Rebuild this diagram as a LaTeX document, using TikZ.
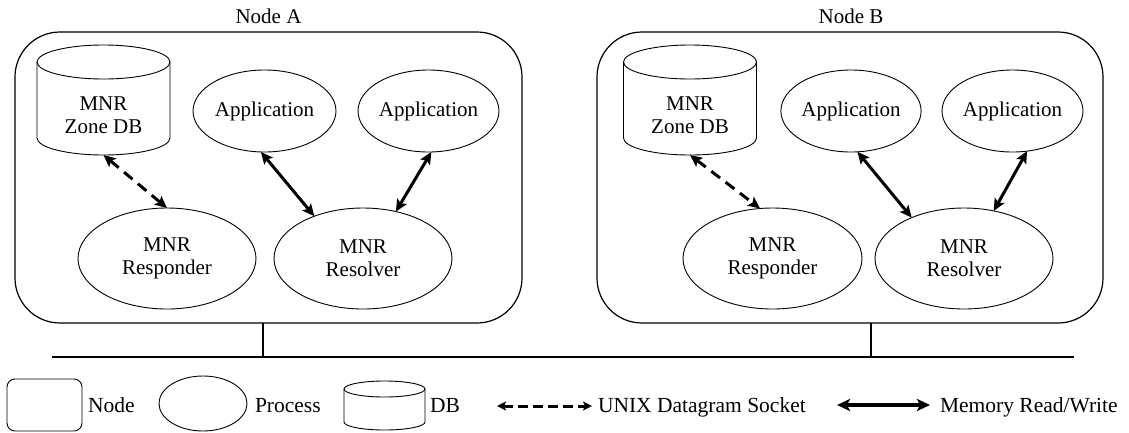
\documentclass[tikz,border=0pt]{standalone}
\usepackage{fontspec}
\setmainfont{Liberation Serif}
\usetikzlibrary{shapes.geometric,arrows.meta}

% Draws a database cylinder around the named (empty) node #1,
% with horizontal radius #2 and ellipse height radius #3.
\newcommand{\drawdb}[3]{%
  \draw[shapeline] ([yshift=-#3]#1.north west) -- ([yshift=#3]#1.south west)
    arc[start angle=180, end angle=360, x radius=#2, y radius=#3]
    -- ([yshift=-#3]#1.north east);
  \draw[shapeline] ([yshift=-#3]#1.north) ellipse[x radius=#2, y radius=#3];
}

\begin{document}
\begin{tikzpicture}[x=1pt, y=-1pt,
  every node/.style={font=\fontsize{21}{23}\selectfont, inner sep=0pt, outer sep=0pt},
  shapeline/.style={line width=0.9pt},
  host/.style={draw, line width=1.2pt, rounded corners=45pt,
               minimum width=507pt, minimum height=291pt},
  proc/.style={draw, ellipse, shapeline, align=center},
  caption/.style={align=center},
  legtext/.style={anchor=base west, font=\fontsize{21.5}{24}\selectfont},
  sock/.style={<->, >={Stealth[length=12pt, width=11pt, inset=2.5pt]},
               line width=3pt, dash pattern=on 11pt off 7pt},
  mem/.style={<->, >={Stealth[length=12pt, width=11pt, inset=2.5pt]},
              line width=3pt},
  sockkey/.style={<->, >={Stealth[length=9pt, width=9pt, inset=2pt]},
                  line width=3pt, dash pattern=on 10pt off 5pt},
  memkey/.style={<->, >={Stealth[length=13pt, width=12pt, inset=3pt]},
                 line width=4pt},
  bus/.style={line width=2.6pt},
  tap/.style={line width=1.6pt}]

\useasboundingbox (0,0) rectangle (1129,432);

% ---------- hosts ----------
\node[host] (hostA) at (268.5,177.5) {};
\node[host, minimum width=506pt] (hostB) at (850,177.5) {};
\node (labA) at (268.5,16) {Node A};
\node (labB) at (851,16) {Node B};

% ---------- Node A ----------
\node[minimum width=133pt, minimum height=110pt] (zdbA) at (103.5,100) {};
\drawdb{zdbA}{66.5pt}{17pt}
\node[caption] (zdbAt) at (103.5,115) {MNR\\Zone DB};
\node[proc, minimum width=143pt, minimum height=82pt] (app1A) at (264.5,111) {Application};
\node[proc, minimum width=141pt, minimum height=82pt] (app2A) at (428.5,111) {Application};
\node[proc, minimum width=178pt, minimum height=101pt] (rspA) at (167,258.5) {MNR\\Responder};
\node[proc, minimum width=178pt, minimum height=101pt] (rslA) at (363,258.5) {MNR\\Resolver};

\draw[sock] (zdbA.south) -- (rspA.north);
\draw[mem] (app1A.265) -- (rslA.139);
\draw[mem] (app2A.274) -- (rslA.55);

% ---------- Node B ----------
\node[minimum width=133pt, minimum height=110pt] (zdbB) at (690,100) {};
\drawdb{zdbB}{66.5pt}{17pt}
\node[caption] (zdbBt) at (690,115) {MNR\\Zone DB};
\node[proc, minimum width=140pt, minimum height=82pt] (app1B) at (851,111) {Application};
\node[proc, minimum width=141pt, minimum height=82pt] (app2B) at (1012.5,111) {Application};
\node[proc, minimum width=179pt, minimum height=101pt] (rspB) at (772.5,258.5) {MNR\\Responder};
\node[proc, minimum width=178pt, minimum height=101pt] (rslB) at (964,258.5) {MNR\\Resolver};

\draw[sock] (zdbB.south) -- (rspB.104);
\draw[mem] (app1B.279) -- (rslB.142);
\draw[mem] (app2B.290) -- (rslB.58);

% ---------- network bus ----------
\coordinate (busW) at (52,357);
\coordinate (busE) at (1074,357);
\coordinate (tapA) at (263,357);
\coordinate (tapB) at (871,357);
\draw[bus] (busW) -- (busE);
\draw[tap] (tapA |- hostA.south) -- (tapA);
\draw[tap] (tapB |- hostB.south) -- (tapB);

% ---------- legend ----------
\node[draw, shapeline, rounded corners=8pt, minimum width=75pt, minimum height=52pt]
  (keyHost) at (44.5,405) {};
\node[legtext] (keyHostT) at (88,412) {Node};
\node[draw, ellipse, shapeline, minimum width=88pt, minimum height=55pt]
  (keyProc) at (203,403.5) {};
\node[legtext] (keyProcT) at (255,412) {Process};
\node[minimum width=81pt, minimum height=49pt] (keyDB) at (384.5,405.5) {};
\drawdb{keyDB}{40.5pt}{8pt}
\node[legtext] (keyDBT) at (430,412) {DB};

\coordinate (sockW) at (497,406);
\coordinate (sockE) at (592,406);
\draw[sockkey] (sockW) -- (sockE);
\node[legtext] (sockT) at (598,412) {UNIX Datagram Socket};

\coordinate (memW) at (837,405);
\coordinate (memE) at (930,405);
\draw[memkey] (memW) -- (memE);
\node[legtext] (memT) at (940,412) {Memory Read/Write};

\end{tikzpicture}
\end{document}
